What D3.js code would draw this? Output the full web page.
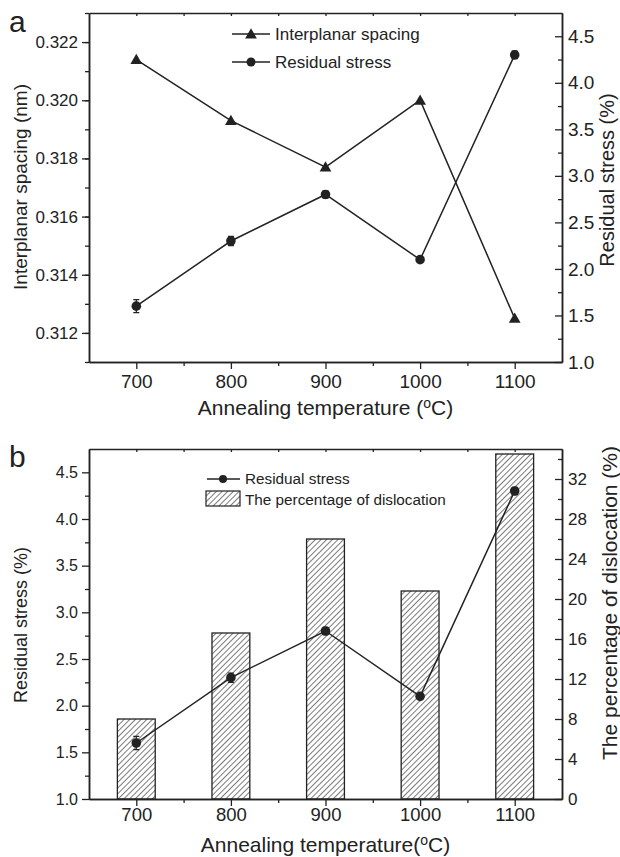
<!DOCTYPE html>
<html>
<head>
<meta charset="utf-8">
<script src="https://cdn.jsdelivr.net/npm/d3@7"></script>
<style>
  body { margin: 0; background: #fff; }
  svg text { font-family: "Liberation Sans", Arial, sans-serif; fill: #222; }
</style>
</head>
<body>
<div id="chart"></div>
<script>
// data
const temps = [700, 800, 900, 1000, 1100];
const spacing = [0.3214, 0.3193, 0.3177, 0.3200, 0.3125];
const stress = [1.60, 2.30, 2.80, 2.10, 4.30];
const stressErr = [0.07, 0.05, 0.04, 0.02, 0.04];
const dislocation = [8.0, 16.6, 26.0, 20.8, 34.5];

const xTicks = [700, 800, 900, 1000, 1100];
const spacingTicks = [0.312, 0.314, 0.316, 0.318, 0.320, 0.322];
const stressTicks = [1.0, 1.5, 2.0, 2.5, 3.0, 3.5, 4.0, 4.5];
const dislocTicks = [0, 4, 8, 12, 16, 20, 24, 28, 32];

const width = 620, height = 857;
const ink = "#222";

const svg = d3.select("#chart").append("svg")
  .attr("width", width)
  .attr("height", height);

// hatch pattern for the bars
svg.append("defs").append("pattern")
  .attr("id", "hatch")
  .attr("patternUnits", "userSpaceOnUse")
  .attr("width", 4)
  .attr("height", 4)
  .attr("patternTransform", "rotate(45)")
  .append("line")
  .attr("x1", 0).attr("y1", 0)
  .attr("x2", 0).attr("y2", 4)
  .attr("stroke", ink)
  .attr("stroke-width", 1.2);

const left = 89, right = 562;

const x = d3.scaleLinear().domain([650, 1150]).range([left, right]);

function styleAxis(g, size) {
  g.selectAll("path.domain").attr("stroke", ink).attr("stroke-width", 1.5);
  g.selectAll(".tick line").attr("stroke", ink).attr("stroke-width", 1.3);
  g.selectAll("text").style("font-size", size + "px").attr("fill", ink);
}

// draws the frame, axes and minor ticks of one panel
function frame(g, o) {
  // top border with small inward ticks
  g.append("g").attr("transform", `translate(0,${o.top})`)
    .call(d3.axisTop(x).tickValues(d3.range(700, 1150, 50)).tickSize(-3).tickFormat("").tickSizeOuter(0))
    .call(styleAxis, 16);

  // bottom axis
  g.append("g").attr("transform", `translate(0,${o.bottom})`)
    .call(d3.axisBottom(x).tickValues(d3.range(750, 1150, 100)).tickSize(4).tickFormat("").tickSizeOuter(0))
    .call(styleAxis, 16);
  g.append("g").attr("transform", `translate(0,${o.bottom})`)
    .call(d3.axisBottom(x).tickValues(xTicks).tickSize(7).tickPadding(o.xPad).tickFormat(d3.format("d")).tickSizeOuter(0))
    .call(styleAxis, o.xFont);

  // left axis, outward ticks
  g.append("g").attr("transform", `translate(${left},0)`)
    .call(d3.axisLeft(o.yL).tickValues(o.leftMinor).tickSize(4).tickFormat("").tickSizeOuter(0))
    .call(styleAxis, 16);
  g.append("g").attr("transform", `translate(${left},0)`)
    .call(d3.axisLeft(o.yL).tickValues(o.leftTicks).tickSize(7).tickPadding(4).tickFormat(o.leftFmt).tickSizeOuter(0))
    .call(styleAxis, o.leftFont);

  // right axis, inward ticks
  g.append("g").attr("transform", `translate(${right},0)`)
    .call(d3.axisRight(o.yR).tickValues(o.rightMinor).tickSize(-4).tickFormat("").tickSizeOuter(0))
    .call(styleAxis, 16);
  g.append("g").attr("transform", `translate(${right},0)`)
    .call(d3.axisRight(o.yR).tickValues(o.rightTicks).tickSize(-7).tickPadding(6).tickFormat(o.rightFmt).tickSizeOuter(0))
    .call(styleAxis, o.rightFont);
}

function xTitle(g, y, txt) {
  const t = g.append("text")
    .attr("x", (left + right) / 2)
    .attr("y", y)
    .attr("text-anchor", "middle")
    .style("font-size", "21px");
  t.append("tspan").text(txt);
  t.append("tspan").text("o").attr("dy", -7).style("font-size", "14px");
  t.append("tspan").text("C)").attr("dy", 7);
}

function yTitle(g, xPos, yPos, txt, size) {
  g.append("text")
    .attr("transform", `translate(${xPos},${yPos}) rotate(-90)`)
    .attr("text-anchor", "middle")
    .style("font-size", size + "px")
    .text(txt);
}

function errorBars(g, yScale) {
  g.selectAll(null)
    .data(temps)
    .enter()
    .append("path")
    .attr("d", (d, i) => {
      const cx = x(d), y1 = yScale(stress[i] - stressErr[i]), y2 = yScale(stress[i] + stressErr[i]);
      return `M${cx - 3},${y1}H${cx + 3}M${cx},${y1}V${y2}M${cx - 3},${y2}H${cx + 3}`;
    })
    .attr("stroke", ink)
    .attr("stroke-width", 1.2)
    .attr("fill", "none");
}

// ---------- panel a ----------
const aTop = 13, aBottom = 362;
const ya = d3.scaleLinear().domain([0.311, 0.323]).range([aBottom, aTop]);
const yaR = d3.scaleLinear().domain([1, 4.75]).range([aBottom, aTop]);

const ga = svg.append("g");
frame(ga, {
  top: aTop, bottom: aBottom, yL: ya, yR: yaR,
  leftTicks: spacingTicks, rightTicks: stressTicks,
  leftMinor: d3.range(0.311, 0.3231, 0.001).map(v => +v.toFixed(3)),
  rightMinor: d3.range(1.25, 4.75, 0.5),
  leftFmt: d3.format(".3f"), rightFmt: d3.format(".1f"),
  xFont: 19, leftFont: 17, rightFont: 19, xPad: 6
});

ga.append("path")
  .datum(spacing)
  .attr("d", d3.line().x((d, i) => x(temps[i])).y(d => ya(d)))
  .attr("fill", "none")
  .attr("stroke", ink)
  .attr("stroke-width", 1.5);

ga.append("path")
  .datum(stress)
  .attr("d", d3.line().x((d, i) => x(temps[i])).y(d => yaR(d)))
  .attr("fill", "none")
  .attr("stroke", ink)
  .attr("stroke-width", 1.5);

errorBars(ga, yaR);

ga.selectAll(null)
  .data(spacing)
  .enter()
  .append("path")
  .attr("d", d3.symbol(d3.symbolTriangle, 60))
  .attr("transform", (d, i) => `translate(${x(temps[i])},${ya(d) + 1})`)
  .attr("fill", ink);

ga.selectAll(null)
  .data(stress)
  .enter()
  .append("circle")
  .attr("cx", (d, i) => x(temps[i]))
  .attr("cy", d => yaR(d))
  .attr("r", 4.8)
  .attr("fill", ink);

// legend a
const legA = ga.append("g");
legA.append("line").attr("x1", 232).attr("x2", 270).attr("y1", 34).attr("y2", 34).attr("stroke", ink).attr("stroke-width", 1.5);
legA.append("path").attr("d", d3.symbol(d3.symbolTriangle, 60)).attr("transform", "translate(251,35)").attr("fill", ink);
legA.append("text").attr("x", 275).attr("y", 40).style("font-size", "17px").text("Interplanar spacing");
legA.append("line").attr("x1", 232).attr("x2", 270).attr("y1", 62).attr("y2", 62).attr("stroke", ink).attr("stroke-width", 1.5);
legA.append("circle").attr("cx", 251).attr("cy", 62).attr("r", 4.5).attr("fill", ink);
legA.append("text").attr("x", 275).attr("y", 68).style("font-size", "17px").text("Residual stress");

ga.append("text").attr("x", 9).attr("y", 32).style("font-size", "30px").text("a");
xTitle(ga, 415, "Annealing temperature (");
yTitle(ga, 27, 187, "Interplanar spacing (nm)", 19);
yTitle(ga, 614, 180, "Residual stress (%)", 20);

// ---------- panel b ----------
const bTop = 449, bBottom = 799;
const yb = d3.scaleLinear().domain([1, 4.75]).range([bBottom, bTop]);
const ybR = d3.scaleLinear().domain([0, 35]).range([bBottom, bTop]);

const gb = svg.append("g");

// bars first so the frame draws over them
const barW = x(740) - x(700);
gb.selectAll("rect.bar")
  .data(dislocation)
  .enter()
  .append("rect")
  .attr("class", "bar")
  .attr("x", (d, i) => x(temps[i]) - barW / 2)
  .attr("y", d => ybR(d))
  .attr("width", barW)
  .attr("height", d => bBottom - ybR(d))
  .attr("fill", "url(#hatch)")
  .attr("stroke", ink)
  .attr("stroke-width", 1.3);

frame(gb, {
  top: bTop, bottom: bBottom, yL: yb, yR: ybR,
  leftTicks: stressTicks, rightTicks: dislocTicks,
  leftMinor: d3.range(1.25, 4.75, 0.5),
  rightMinor: d3.range(2, 35, 4),
  leftFmt: d3.format(".1f"), rightFmt: d3.format("d"),
  xFont: 18.5, leftFont: 16, rightFont: 17, xPad: 2
});

gb.append("path")
  .datum(stress)
  .attr("d", d3.line().x((d, i) => x(temps[i])).y(d => yb(d)))
  .attr("fill", "none")
  .attr("stroke", ink)
  .attr("stroke-width", 1.5);

errorBars(gb, yb);

gb.selectAll(null)
  .data(stress)
  .enter()
  .append("circle")
  .attr("cx", (d, i) => x(temps[i]))
  .attr("cy", d => yb(d))
  .attr("r", 4.8)
  .attr("fill", ink);

// legend b
const legB = gb.append("g");
legB.append("line").attr("x1", 207).attr("x2", 240).attr("y1", 479).attr("y2", 479).attr("stroke", ink).attr("stroke-width", 1.5);
legB.append("circle").attr("cx", 223).attr("cy", 479).attr("r", 4).attr("fill", ink);
legB.append("text").attr("x", 245).attr("y", 484).style("font-size", "15.3px").text("Residual stress");
legB.append("rect").attr("x", 206).attr("y", 491).attr("width", 34).attr("height", 15)
  .attr("fill", "url(#hatch)").attr("stroke", ink).attr("stroke-width", 1.2);
legB.append("text").attr("x", 245).attr("y", 505).style("font-size", "15.3px").text("The percentage of dislocation");

gb.append("text").attr("x", 9).attr("y", 467).style("font-size", "30px").text("b");
xTitle(gb, 852, "Annealing temperature(");
yTitle(gb, 27, 625, "Residual stress (%)", 18);
yTitle(gb, 617, 603, "The percentage of dislocation (%)", 21);
</script>
</body>
</html>
